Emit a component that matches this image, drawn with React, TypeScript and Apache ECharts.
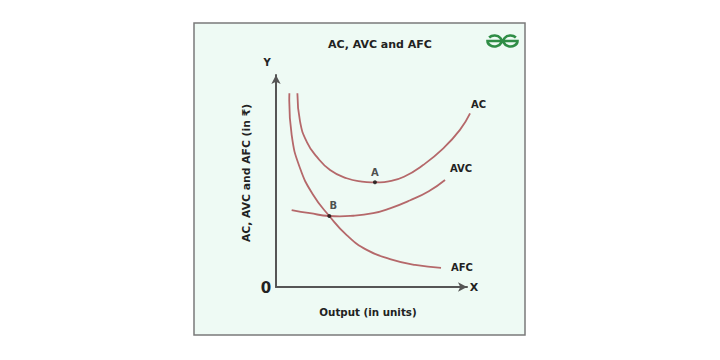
import React, { useEffect, useRef } from "react";
import * as echarts from "echarts";

// Curve points: [output, cost]
const acPoints: [number, number][] = [
  [1.12, 9.14], [1.26, 7.8], [1.61, 6.85], [2.13, 6.15], [2.83, 5.52], [3.7, 5.13],
  [4.5, 4.97], [5.2, 4.94], [5.9, 4.98], [6.7, 5.2], [7.7, 5.75], [8.76, 6.54],
  [9.63, 7.41], [10.16, 8.19],
];
const avcPoints: [number, number][] = [
  [0.82, 3.63], [1.78, 3.48], [2.79, 3.35], [4.05, 3.36], [5.09, 3.48], [5.97, 3.71],
  [7.0, 4.08], [8.0, 4.52], [8.85, 5.05],
];
const afcPoints: [number, number][] = [
  [0.7, 9.14], [0.82, 7.17], [1.26, 5.6], [1.95, 4.34], [2.79, 3.35], [3.7, 2.45],
  [4.75, 1.75], [5.97, 1.32], [7.28, 1.04], [8.64, 0.9],
];
const markedPoints: { name: string; value: [number, number]; label?: any }[] = [
  { name: "A", value: [5.18, 4.94] },
  { name: "B", value: [2.79, 3.35], label: { offset: [4, 0] } },
];
const curveNames = ["AC", "AVC", "AFC"];
const titleText = "AC, AVC and AFC";
const yTitle = "AC, AVC and AFC (in ₹)";
const xTitle = "Output (in units)";

const FONT = "'DejaVu Sans', 'Noto Sans', sans-serif";
const CURVE = "#b5686a";
const TEXT = "#222";

const logoPath =
  "M 2.14 2.46 A 7 5.5 0 1 1 0.5 6 L 30.5 6 A 7 5.5 0 1 1 28.86 2.46";

let registered = false;

export default function App() {
  const ref = useRef<HTMLDivElement>(null);
  useEffect(() => {
    if (!ref.current) return;
    if (!registered) {
      echarts.graphic.registerShape("logo", echarts.graphic.extendPath(logoPath, {}));
      registered = true;
    }
    const chart = echarts.init(ref.current, null, { renderer: "svg" });
    const curveSeries = (name: string, pts: [number, number][], labelShift: number[]) => ({
      type: "custom",
      name,
      coordinateSystem: "cartesian2d",
      data: pts,
      clip: false,
      z: 3,
      renderItem: (params: any, api: any) => {
        if (params.dataIndex !== 0) return null;
        const points = pts.map((p) => api.coord(p));
        const end = points[points.length - 1];
        return {
          type: "group",
          children: [
            {
              type: "polyline",
              shape: { points, smooth: 0.5 },
              style: { stroke: CURVE, lineWidth: 1.8, fill: "none" },
            },
            {
              type: "text",
              x: end[0] + labelShift[0],
              y: end[1] + labelShift[1],
              style: {
                text: name,
                textAlign: "left",
                textVerticalAlign: "middle",
                fontFamily: FONT,
                fontWeight: "bold",
                fontSize: 10,
                fill: TEXT,
              },
            },
          ],
        };
      },
    });
    chart.setOption({
      animation: false,
      backgroundColor: "#ffffff",
      title: {
        text: titleText,
        left: 375,
        top: 34,
        textAlign: "center",
        textStyle: { fontFamily: FONT, fontWeight: "bold", fontSize: 11, color: TEXT },
      },
      grid: { left: 276, top: 75, width: 191, height: 212, containLabel: false },
      xAxis: {
        type: "value",
        min: 0,
        max: 10,
        axisLine: {
          show: true,
          onZero: false,
          symbol: ["none", "arrow"],
          symbolSize: [7, 9],
          lineStyle: { color: "#555", width: 2 },
        },
        axisTick: { show: false },
        axisLabel: { show: false },
        splitLine: { show: false },
      },
      yAxis: {
        type: "value",
        min: 0,
        max: 10,
        axisLine: {
          show: true,
          onZero: false,
          symbol: ["none", "arrow"],
          symbolSize: [7, 9],
          lineStyle: { color: "#555", width: 2 },
        },
        axisTick: { show: false },
        axisLabel: { show: false },
        splitLine: { show: false },
      },
      graphic: [
        {
          type: "rect",
          z: -10,
          shape: { x: 194, y: 23, width: 331, height: 312 },
          style: { fill: "#eefaf4", stroke: "#7a7a7a", lineWidth: 1.5 },
        },
        {
          type: "logo",
          x: 487,
          y: 35,
          style: { fill: "none", stroke: "#2f8d46", lineWidth: 2.6 },
        },
        {
          type: "text",
          x: 267,
          y: 62,
          style: { text: "Y", textAlign: "center", textVerticalAlign: "middle", fontFamily: FONT, fontWeight: "bold", fontSize: 10, fill: TEXT },
        },
        {
          type: "text",
          x: 474,
          y: 287,
          style: { text: "X", textAlign: "center", textVerticalAlign: "middle", fontFamily: FONT, fontWeight: "bold", fontSize: 11, fill: TEXT },
        },
        {
          type: "text",
          x: 266,
          y: 288,
          style: { text: "0", textAlign: "center", textVerticalAlign: "middle", fontFamily: FONT, fontWeight: "bold", fontSize: 15, fill: TEXT },
        },
        {
          type: "text",
          x: 368,
          y: 312,
          style: { text: xTitle, textAlign: "center", textVerticalAlign: "middle", fontFamily: FONT, fontWeight: "bold", fontSize: 10.3, fill: TEXT },
        },
        {
          type: "text",
          x: 246,
          y: 173,
          rotation: Math.PI / 2,
          style: { text: yTitle, textAlign: "center", textVerticalAlign: "middle", fontFamily: FONT, fontWeight: "bold", fontSize: 10.8, fill: TEXT },
        },
      ],
      series: [
        curveSeries(curveNames[0], acPoints, [1, -9]),
        curveSeries(curveNames[1], avcPoints, [5, -11]),
        curveSeries(curveNames[2], afcPoints, [10, 0]),
        {
          type: "scatter",
          data: markedPoints,
          symbolSize: 4,
          itemStyle: { color: "#111" },
          label: {
            show: true,
            formatter: "{b}",
            position: "top",
            distance: 3,
            color: TEXT,
            fontFamily: FONT,
            fontWeight: "bold",
            fontSize: 10,
          },
          z: 5,
        },
      ],
    });
    return () => chart.dispose();
  }, []);
  return (
    <div
      ref={ref}
      style={{ position: "fixed", left: 0, top: 0, width: 720, height: 360 }}
    />
  );
}
